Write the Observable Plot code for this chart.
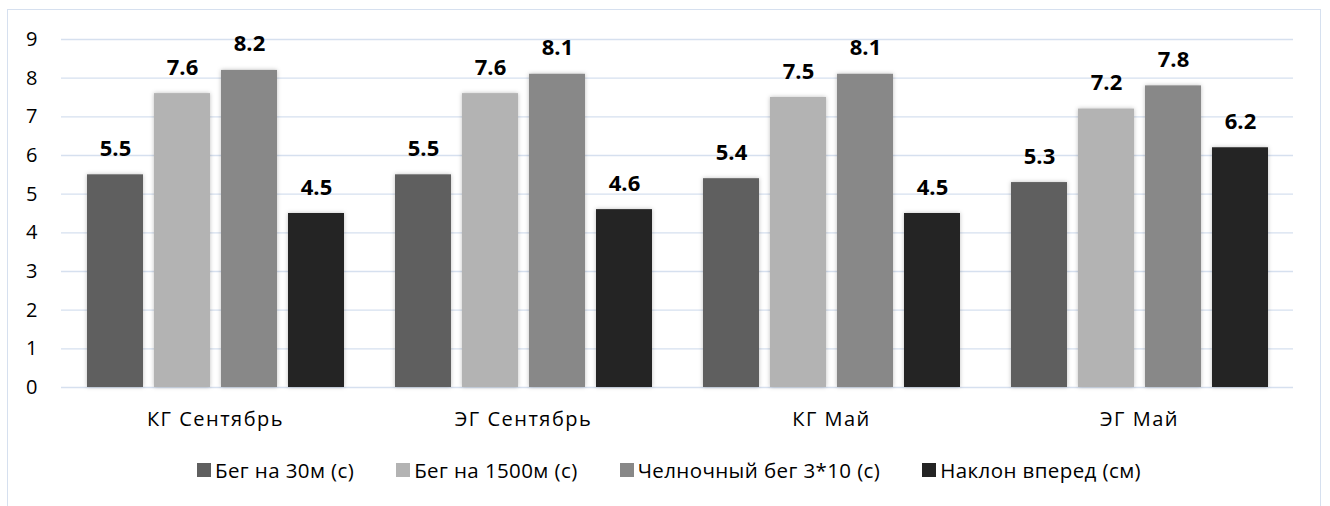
<!DOCTYPE html>
<html>
<head>
<meta charset="utf-8">
<script src="https://cdn.jsdelivr.net/npm/d3@7"></script>
<script src="https://cdn.jsdelivr.net/npm/@observablehq/plot@0.6"></script>
<style>
  html, body { margin: 0; padding: 0; background: #fff; }
  body { width: 1330px; height: 506px; position: relative; overflow: hidden; font-family: "Open Sans", "Noto Sans", sans-serif; }
  #frame { position: absolute; left: 7px; top: 9px; width: 1314px; height: 520px; border: 1px solid #d6e0ef; box-sizing: border-box; }
  #chart { position: absolute; left: 0; top: 0; }
  #chart g[aria-label="bar"] rect { filter: drop-shadow(0 0 2px rgba(0,0,0,0.25)); }
  #chart g[aria-label="fx-axis tick label"] text { letter-spacing: 1.5px; }
  #legend { position: absolute; left: 0; width: 1338px; top: 456px; display: flex; justify-content: center; gap: 42px; font-size: 20.5px; letter-spacing: 0.4px; color: #000; }
  #legend .item { display: flex; align-items: center; gap: 4px; white-space: nowrap; }
  #legend .sw { width: 14px; height: 14px; display: inline-block; }
</style>
</head>
<body>
<div id="frame"></div>
<div id="chart"></div>
<div id="legend"></div>
<script>
const groups = ["КГ Сентябрь", "ЭГ Сентябрь", "КГ Май", "ЭГ Май"];
const series = ["Бег на 30м (с)", "Бег на 1500м (с)", "Челночный бег 3*10 (с)", "Наклон вперед (см)"];
const colors = ["#5f5f5f", "#b3b3b3", "#888888", "#242424"];
const values = [
  [5.5, 7.6, 8.2, 4.5],
  [5.5, 7.6, 8.1, 4.6],
  [5.4, 7.5, 8.1, 4.5],
  [5.3, 7.2, 7.8, 6.2]
];
const yTicks = [0, 1, 2, 3, 4, 5, 6, 7, 8, 9];

const data = [];
groups.forEach((g, i) => series.forEach((s, j) => data.push({group: g, series: s, value: values[i][j]})));

const chart = Plot.plot({
  width: 1330,
  height: 440,
  marginLeft: 59,
  marginRight: 36,
  marginTop: 39,
  marginBottom: 53,
  style: {fontFamily: "'Open Sans', 'Noto Sans', sans-serif", fontSize: "20px", color: "#000", background: "transparent"},
  fx: {domain: groups, padding: 0, label: null},
  x: {domain: series, paddingInner: 0.17, paddingOuter: 0.37, axis: null},
  y: {domain: [0, 9], label: null},
  color: {domain: series, range: colors},
  marks: [
    Plot.ruleY(yTicks, {stroke: "#d6e0ef", strokeWidth: 1.3, strokeOpacity: 1}),
    Plot.axisY(yTicks, {tickSize: 0, tickPadding: 24, tickFormat: d3.format("d"), fontSize: 20, label: null, fill: "#000"}),
    Plot.axisFx({anchor: "bottom", tickSize: 0, tickPadding: 24, fontSize: 20, label: null, fill: "#000"}),
    Plot.barY(data, {fx: "group", x: "series", y: "value", fill: "series"}),
    Plot.text(data, {fx: "group", x: "series", y: "value", text: d => d.value.toFixed(1), dy: -26, fontSize: 22, fontWeight: "bold", fill: "#000"})
  ]
});
document.getElementById("chart").appendChild(chart);

const leg = document.getElementById("legend");
series.forEach((s, i) => {
  const it = document.createElement("div");
  it.className = "item";
  const sw = document.createElement("span");
  sw.className = "sw";
  sw.style.background = colors[i];
  const t = document.createElement("span");
  t.textContent = s;
  it.appendChild(sw); it.appendChild(t);
  leg.appendChild(it);
});
</script>
</body>
</html>
